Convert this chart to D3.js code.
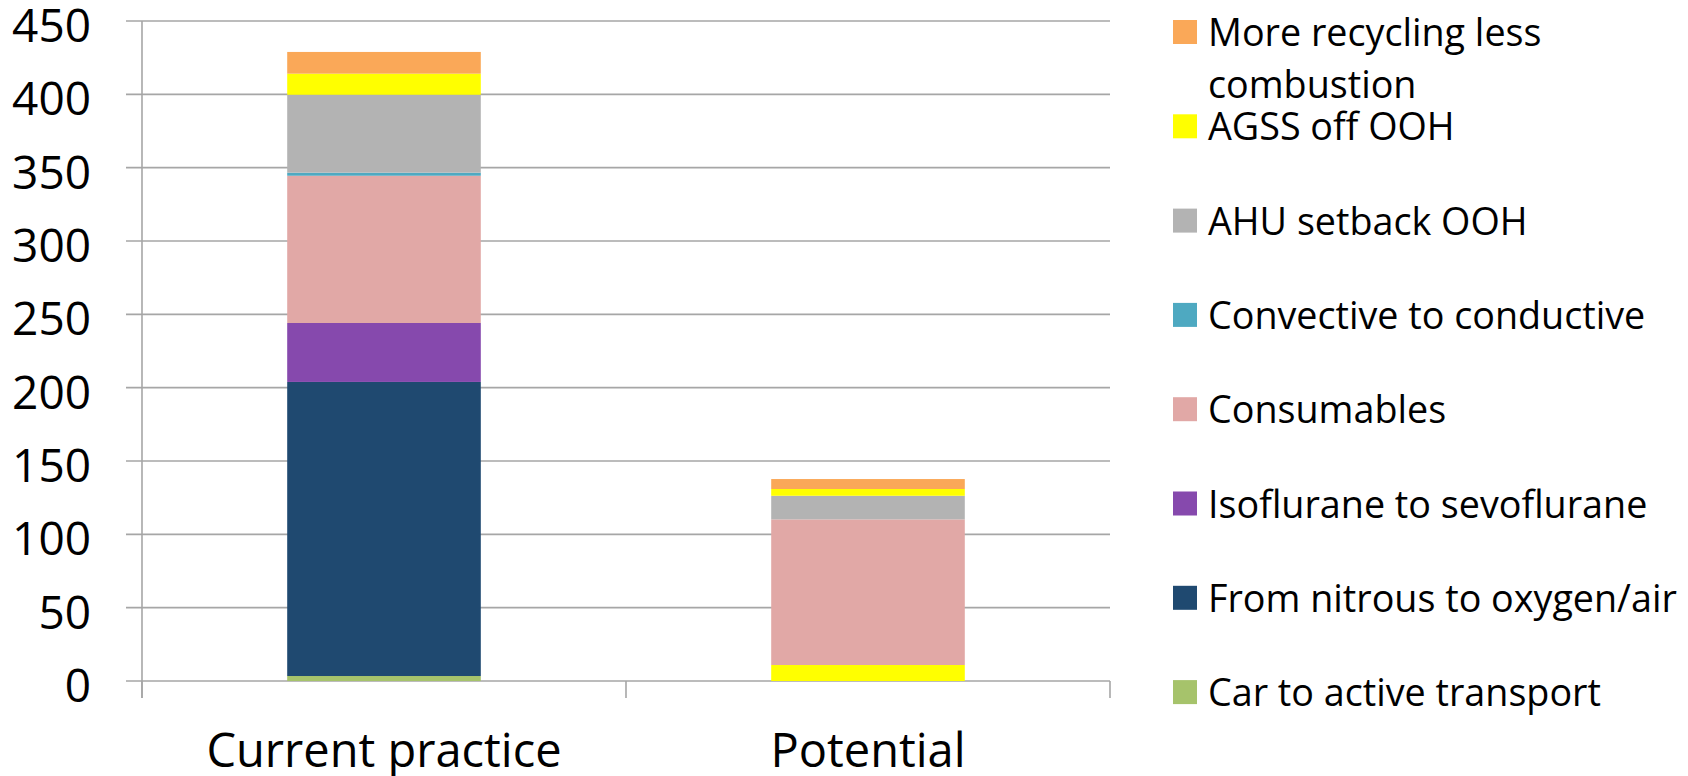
<!DOCTYPE html>
<html>
<head>
<meta charset="utf-8">
<script src="https://cdn.jsdelivr.net/npm/d3@7"></script>
<style>
  html, body { margin: 0; padding: 0; background: #fff; }
  svg { display: block; }
  text { font-family: "Open Sans", "Noto Sans", sans-serif; fill: #000; }
</style>
</head>
<body>
<svg id="chart" width="1688" height="776"></svg>
<script>
// Categories on the x axis
const categories = ["Current practice", "Potential"];

// Stack layers, bottom to top (values per category)
const carToActive     = [3.4, 0];
const nitrousToAir    = [200.5, 0];
const isoToSevo       = [40.2, 0];
const agssRemaining   = [0, 10.9];
const consumables     = [100.4, 99.3];
const convective      = [2.1, 0];
const ahuSetback      = [53.1, 16.1];
const agssOff         = [14.4, 4.6];
const recycling       = [14.8, 6.8];

// Y axis ticks
const yTicks = [0, 50, 100, 150, 200, 250, 300, 350, 400, 450];

// Layer definitions (name, values, colour, shown in legend)
const layers = [
  { key: "car",    name: "Car to active transport",        values: carToActive,   color: "#A6C36B", legend: true },
  { key: "n2o",    name: "From nitrous to oxygen/air",     values: nitrousToAir,  color: "#1F4970", legend: true },
  { key: "iso",    name: "Isoflurane to sevoflurane",      values: isoToSevo,     color: "#8649AD", legend: true },
  { key: "agssR",  name: "AGSS",                           values: agssRemaining, color: "#FFFF00", legend: false },
  { key: "cons",   name: "Consumables",                    values: consumables,   color: "#E1A8A6", legend: true },
  { key: "conv",   name: "Convective to conductive",       values: convective,    color: "#4EA9C1", legend: true },
  { key: "ahu",    name: "AHU setback OOH",                values: ahuSetback,    color: "#B3B3B3", legend: true },
  { key: "agss",   name: "AGSS off OOH",                   values: agssOff,       color: "#FFFF00", legend: true },
  { key: "recyc",  name: ["More recycling less", "combustion"], values: recycling, color: "#FAA858", legend: true }
];

const svg = d3.select("#chart");
const plot = { left: 142, right: 1110, top: 21, bottom: 681 };
const gridColor = "#A6A6A6";

const x = d3.scaleBand()
  .domain(categories)
  .range([plot.left, plot.right])
  .paddingInner(0.6)
  .paddingOuter(0.3);

const y = d3.scaleLinear()
  .domain([0, 450])
  .range([plot.bottom, plot.top]);

// Horizontal gridlines with outside tick stubs
svg.append("g")
  .selectAll("line")
  .data(yTicks)
  .join("line")
  .attr("x1", plot.left - 16)
  .attr("x2", plot.right)
  .attr("y1", d => y(d))
  .attr("y2", d => y(d))
  .attr("stroke", gridColor)
  .attr("stroke-width", 1.6);

// Y tick labels
svg.append("g")
  .selectAll("text")
  .data(yTicks)
  .join("text")
  .attr("x", 91)
  .attr("y", d => y(d) + 21)
  .attr("text-anchor", "end")
  .style("font-size", "46px")
  .text(d => d);

// Stacked bars
const rows = categories.map((c, i) => {
  const r = { category: c };
  layers.forEach(l => { r[l.key] = l.values[i]; });
  return r;
});
const stacked = d3.stack().keys(layers.map(l => l.key))(rows);

svg.append("g")
  .selectAll("g")
  .data(stacked)
  .join("g")
  .attr("fill", (d, i) => layers[i].color)
  .selectAll("rect")
  .data(d => d)
  .join("rect")
  .attr("x", d => x(d.data.category))
  .attr("width", x.bandwidth())
  .attr("y", d => y(d[1]))
  .attr("height", d => Math.max(0, y(d[0]) - y(d[1])));

// Axes lines: vertical y axis and category tick marks
svg.append("line")
  .attr("x1", plot.left).attr("x2", plot.left)
  .attr("y1", plot.top).attr("y2", plot.bottom + 17)
  .attr("stroke", gridColor).attr("stroke-width", 1.6);

const step = x.step();
const catEdges = d3.range(categories.length + 1).map(i => plot.left + i * step);
svg.append("g")
  .selectAll("line")
  .data(catEdges)
  .join("line")
  .attr("x1", d => d).attr("x2", d => d)
  .attr("y1", plot.bottom).attr("y2", plot.bottom + 17)
  .attr("stroke", gridColor).attr("stroke-width", 1.6);

// Category labels
svg.append("g")
  .selectAll("text")
  .data(categories)
  .join("text")
  .attr("x", d => x(d) + x.bandwidth() / 2)
  .attr("y", 767)
  .attr("text-anchor", "middle")
  .style("font-size", "47px")
  .text(d => d);

// Legend, top entry first
const legendItems = layers.filter(l => l.legend).reverse();
const legend = svg.append("g")
  .selectAll("g")
  .data(legendItems)
  .join("g")
  .attr("transform", (d, i) => `translate(1173, ${32 + i * 94.3})`);

legend.append("rect")
  .attr("x", 0)
  .attr("y", -12)
  .attr("width", 24)
  .attr("height", 24)
  .attr("fill", d => d.color);

legend.append("text")
  .attr("x", 35)
  .attr("y", 14)
  .style("font-size", "37.7px")
  .selectAll("tspan")
  .data(d => Array.isArray(d.name) ? d.name : [d.name])
  .join("tspan")
  .attr("x", 35)
  .attr("dy", (t, i) => i === 0 ? 0 : 52)
  .text(t => t);
</script>
</body>
</html>
